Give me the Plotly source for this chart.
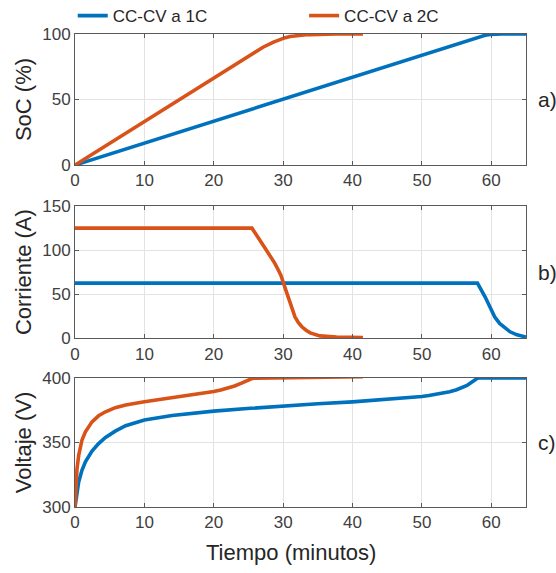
import plotly.graph_objects as go

# ---------------- data ----------------
series_names = ["CC-CV a 1C", "CC-CV a 2C"]

# SoC (%)
soc_1c_t = [0, 58, 59.1, 59.9, 60.5, 61.5, 65]
soc_1c = [0, 97.6, 99.0, 99.6, 99.85, 100, 100]
soc_2c_t = [0, 25.5, 27.1, 28.6, 29.5, 30.3, 31.0, 31.7, 32.2, 32.7, 33.3, 33.9, 35.3, 37.7, 41.5]
soc_2c = [0, 85, 89.9, 93.8, 95.8, 97.2, 98.1, 98.7, 99.0, 99.2, 99.4, 99.55, 99.8, 99.95, 100]

# Corriente (A)
cur_1c_t = [0, 58, 59.1, 59.9, 60.5, 61.2, 62, 62.7, 63.7, 65]
cur_1c = [62.5, 62.5, 47, 33, 24, 16.7, 11, 7.2, 3.8, 1.2]
cur_2c_t = [0, 25.5, 27.1, 28.2, 28.8, 29.3, 29.7, 30.3, 31.0, 31.7, 32.2, 32.7, 33.3, 33.9,
            35.3, 37.7, 41.5]
cur_2c = [125, 125, 106, 93, 85, 77.5, 71, 56.5, 39.4, 24.2, 17.5, 12.9, 9, 6, 2.6, 1.3, 0.6]

# Voltaje (V)
volt_1c_t = [0, 0.14, 0.29, 0.53, 1.0, 1.5, 2.45, 3.4, 4.4, 5.8, 7.3, 10, 14, 17, 20, 25.3,
             30, 35, 40, 45, 50, 51, 52, 53, 54, 55, 56, 56.5, 57, 57.5, 58, 58.3, 65]
volt_1c = [300, 306.5, 313, 319.4, 328.5, 335, 343.3, 349.2, 353.9, 358.8, 363, 367.4, 371,
           372.8, 374.3, 376.5, 378.4, 380, 381.5, 383.4, 385.7, 386.4, 387.2, 388.2, 389.4,
           390.9, 392.9, 394.3, 396.2, 398.4, 399.8, 400, 400]
volt_2c_t = [0, 0.07, 0.14, 0.29, 0.53, 1.0, 1.5, 2.45, 3.4, 4.4, 5.8, 7.3, 10, 14, 17, 20,
             21, 22, 23, 24, 25, 25.5, 26, 30, 35, 41.5]
volt_2c = [300, 309, 316.8, 329.8, 340, 351.8, 358.3, 366, 370.7, 373.8, 377, 379, 381.6,
           384.6, 386.8, 389.5, 390.7, 392, 393.8, 396, 398.6, 399.6, 399.9, 400.3, 400.7, 401]

x_ticks = [0, 10, 20, 30, 40, 50, 60]
soc_ticks = [0, 50, 100]
cur_ticks = [0, 50, 100, 150]
volt_ticks = [300, 350, 400]
y_titles = ["SoC (%)", "Corriente (A)", "Voltaje (V)"]
panel_labels = ["a)", "b)", "c)"]
x_title = "Tiempo (minutos)"

# ---------------- style ----------------
BLUE = "#0072BD"
ORANGE = "#D95319"
FONT = "Liberation Sans, Arial, sans-serif"
AXC = "#5a5a5a"
TXT = "#262626"
GRID = "#e3e3e3"
LW = 3.6

fig = go.Figure()

panels = [
    (soc_1c_t, soc_1c, soc_2c_t, soc_2c, "x", "y"),
    (cur_1c_t, cur_1c, cur_2c_t, cur_2c, "x2", "y2"),
    (volt_1c_t, volt_1c, volt_2c_t, volt_2c, "x3", "y3"),
]
for i, (t1, v1, t2, v2, xa, ya) in enumerate(panels):
    fig.add_trace(go.Scatter(x=t1, y=v1, mode="lines", name=series_names[0],
                             line=dict(color=BLUE, width=LW), xaxis=xa, yaxis=ya,
                             showlegend=(i == 0), legendgroup="1c", legend="legend",
                             cliponaxis=False))
    fig.add_trace(go.Scatter(x=t2, y=v2, mode="lines", name=series_names[1],
                             line=dict(color=ORANGE, width=LW), xaxis=xa, yaxis=ya,
                             showlegend=(i == 0), legendgroup="2c", legend="legend2",
                             cliponaxis=False))

domains = [[0.723, 1.0], [0.357, 0.636], [0.0, 0.2727]]
yranges = [[0, 100], [0, 150], [300, 400]]
yticks = [soc_ticks, cur_ticks, volt_ticks]

common_axis = dict(
    showline=True, linecolor=AXC, linewidth=1, mirror="ticks",
    ticks="inside", ticklen=4, tickcolor=AXC, tickwidth=1,
    showgrid=True, gridcolor=GRID, gridwidth=1, zeroline=False,
    tickfont=dict(family=FONT, size=17, color="#404040"),
)

legend_common = dict(orientation="h", xanchor="left", y=1.038, yanchor="middle",
                     font=dict(family=FONT, size=17, color=TXT),
                     bgcolor="rgba(0,0,0,0)")

layout = dict(
    width=556, height=573,
    margin=dict(l=75, r=30, t=34, b=66, autoexpand=False),
    paper_bgcolor="white", plot_bgcolor="white",
    font=dict(family=FONT, color=TXT),
    showlegend=True,
    legend=dict(legend_common, x=-0.005),
    legend2=dict(legend_common, x=0.508),
)

for i in range(3):
    xk = "xaxis" if i == 0 else f"xaxis{i+1}"
    yk = "yaxis" if i == 0 else f"yaxis{i+1}"
    ya_name = "y" if i == 0 else f"y{i+1}"
    xa_name = "x" if i == 0 else f"x{i+1}"
    layout[xk] = dict(common_axis, domain=[0, 1], anchor=ya_name, range=[0, 65],
                      tickvals=x_ticks)
    layout[yk] = dict(common_axis, domain=domains[i], anchor=xa_name, range=yranges[i],
                      tickvals=yticks[i],
                      title=dict(text=y_titles[i], standoff=4,
                                 font=dict(family=FONT, size=22, color=TXT)))

fig.update_layout(**layout)

fig.add_annotation(text=x_title, xref="paper", x=0.479, xanchor="center",
                   yref="paper", y=-0.097, yanchor="middle", showarrow=False,
                   font=dict(family=FONT, size=22, color=TXT))

for i, lab in enumerate(panel_labels):
    ya_name = "y" if i == 0 else f"y{i+1}"
    fig.add_annotation(text=lab, xref="paper", x=1.022, xanchor="left",
                       yref=f"{ya_name} domain", y=0.5, yanchor="middle",
                       showarrow=False, font=dict(family=FONT, size=21, color=TXT))

fig.write_html("out.html")
